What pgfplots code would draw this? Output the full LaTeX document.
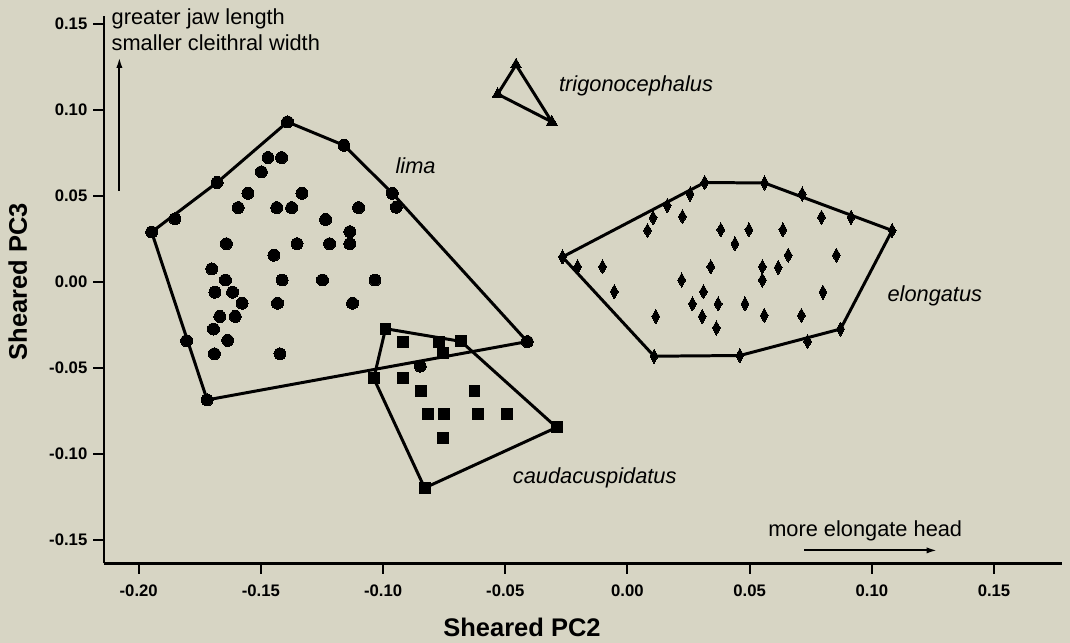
\documentclass[border=0pt]{standalone}
\usepackage{fontspec}
\setmainfont{Liberation Sans}
\usepackage{pgfplots}
\pgfplotsset{compat=1.18}
\usetikzlibrary{backgrounds,calc,arrows.meta}
\definecolor{bg}{RGB}{215,213,196}

% point sets (Sheared PC2, Sheared PC3)
\pgfplotstableread{
x y
-0.1947 0.0288
-0.1852 0.0365
-0.1679 0.0576
-0.1391 0.0928
-0.1160 0.0792
-0.0962 0.0513
-0.0946 0.0432
-0.0410 -0.0349
-0.0848 -0.0492
-0.1720 -0.0688
-0.1804 -0.0344
-0.1471 0.0721
-0.1415 0.0721
-0.1498 0.0638
-0.1553 0.0513
-0.1332 0.0513
-0.1593 0.0430
-0.1435 0.0430
-0.1374 0.0430
-0.1100 0.0430
-0.1235 0.0361
-0.1136 0.0290
-0.1641 0.0220
-0.1352 0.0220
-0.1219 0.0220
-0.1136 0.0220
-0.1447 0.0153
-0.1701 0.0074
-0.1645 0.0009
-0.1413 0.0009
-0.1248 0.0009
-0.1033 0.0009
-0.1688 -0.0062
-0.1616 -0.0062
-0.1577 -0.0126
-0.1432 -0.0126
-0.1125 -0.0126
-0.1668 -0.0203
-0.1605 -0.0203
-0.1694 -0.0276
-0.1636 -0.0342
-0.1690 -0.0420
-0.1422 -0.0420
}\lima

\pgfplotstableread{
x y
-0.0990 -0.0274
-0.0681 -0.0348
-0.0290 -0.0848
-0.0830 -0.1200
-0.1038 -0.0563
-0.0919 -0.0351
-0.0772 -0.0351
-0.0756 -0.0415
-0.0919 -0.0563
-0.0844 -0.0636
-0.0626 -0.0636
-0.0817 -0.0771
-0.0749 -0.0771
-0.0613 -0.0771
-0.0493 -0.0771
-0.0756 -0.0911
}\cauda

\pgfplotstableread{
x y
-0.0266 0.0143
-0.0204 0.0086
0.0163 0.0442
0.0256 0.0509
0.0316 0.0576
0.0561 0.0573
0.0715 0.0509
0.0915 0.0374
0.1083 0.0297
0.0872 -0.0276
0.0737 -0.0348
0.0460 -0.0430
0.0109 -0.0434
0.0105 0.0371
0.0225 0.0378
0.0082 0.0297
0.0382 0.0301
0.0497 0.0301
0.0636 0.0301
0.0794 0.0374
0.0440 0.0220
0.0658 0.0153
0.0855 0.0153
-0.0102 0.0086
0.0341 0.0086
0.0552 0.0086
0.0617 0.0082
0.0552 0.0009
0.0222 0.0009
-0.0054 -0.0059
0.0311 -0.0059
0.0800 -0.0062
0.0266 -0.0130
0.0371 -0.0130
0.0481 -0.0130
0.0116 -0.0203
0.0306 -0.0203
0.0560 -0.0197
0.0712 -0.0197
0.0364 -0.0270
}\elong

\begin{document}
\begin{tikzpicture}
\begin{axis}[
    name=ax,
    scale only axis,
    width=19.154cm, height=10.946cm,
    xmin=-0.2142, xmax=0.1777,
    ymin=-0.1638, ymax=0.1544,
    axis lines=left,
    axis line style={-, line width=1.4pt},
    xtick={-0.2,-0.15,-0.1,-0.05,0,0.05,0.1,0.15},
    ytick={-0.15,-0.1,-0.05,0,0.05,0.1,0.15},
    tick align=outside,
    major tick length=0.21cm,
    tick style={line width=1.1pt, black},
    /pgf/number format/.cd, fixed, fixed zerofill, precision=2, assume math mode=true,
    /pgfplots/.cd,
    ticklabel style={font=\fontsize{9.5}{11}\selectfont\bfseries},
    xticklabel style={yshift=-0.1cm},
    xlabel={Sheared PC2},
    ylabel={Sheared PC3},
    label style={font=\fontsize{14.5}{17}\selectfont\bfseries},
    xlabel style={at={(axis description cs:0.4365,-0.117)}, anchor=center},
    ylabel style={at={(axis description cs:-0.09,0.515)}, anchor=center},
    clip=false,
]
% convex hulls
\addplot[black, line width=1.7pt, line join=round] coordinates {
    (-0.1947,0.0288) (-0.1679,0.0576) (-0.1391,0.0928) (-0.1160,0.0792)
    (-0.0962,0.0513) (-0.0410,-0.0349) (-0.1720,-0.0688) (-0.1947,0.0288)};
\addplot[black, line width=1.7pt, line join=round] coordinates {
    (-0.0990,-0.0274) (-0.0681,-0.0348) (-0.0290,-0.0848) (-0.0830,-0.1200)
    (-0.1038,-0.0563) (-0.0990,-0.0274)};
\addplot[black, line width=1.7pt, line join=round] coordinates {
    (-0.0266,0.0143) (0.0316,0.0576) (0.0561,0.0573) (0.1083,0.0297)
    (0.0872,-0.0276) (0.0460,-0.0430) (0.0109,-0.0434) (-0.0266,0.0143)};
\addplot[black, line width=1.7pt, line join=round, mark=triangle*,
    mark size=3.6pt, mark options={solid, fill=black, line width=0pt}] coordinates {
    (-0.0456,0.1260) (-0.0531,0.1090) (-0.0309,0.0928) (-0.0456,0.1260)};
% points
\addplot[only marks, mark=*, mark size=3.4pt,
    mark options={fill=black, draw=black, line width=0pt}] table {\lima};
\addplot[only marks, mark=square*, mark size=3.1pt,
    mark options={fill=black, draw=black, line width=0pt}] table {\cauda};
\addplot[only marks, mark=diamond*, mark size=4pt,
    mark options={fill=black, draw=black, line width=0pt, xscale=0.75}] table {\elong};

% labels
\node[anchor=west, inner sep=0pt, font=\fontsize{12.4}{14}\selectfont\itshape] at (axis cs:-0.0950,0.0676) {lima};
\node[anchor=west, inner sep=0pt, font=\fontsize{12.4}{14}\selectfont\itshape] at (axis cs:-0.0281,0.1137) {trigonocephalus};
\node[anchor=west, inner sep=0pt, font=\fontsize{12.4}{14}\selectfont\itshape] at (axis cs:0.1063,-0.0084) {elongatus};
\node[anchor=west, inner sep=0pt, font=\fontsize{12.4}{14}\selectfont\itshape] at (axis cs:-0.0470,-0.1141) {caudacuspidatus};
\node[anchor=west, inner sep=0pt, font=\fontsize{12.4}{14}\selectfont] at (axis cs:-0.2112,0.1530) {greater jaw length};
\node[anchor=west, inner sep=0pt, font=\fontsize{12.4}{14}\selectfont] at (axis cs:-0.2112,0.1388) {smaller cleithral width};
\node[anchor=west, inner sep=0pt, font=\fontsize{12.4}{14}\selectfont] at (axis cs:0.0575,-0.1448) {more elongate head};
\draw[line width=1.1pt, -{Latex[length=6pt,width=3.6pt]}] (axis cs:-0.2079,0.0528) -- (axis cs:-0.2079,0.1303);
\draw[line width=1.1pt, -{Latex[length=6pt,width=3.6pt]}] (axis cs:0.0724,-0.1563) -- (axis cs:0.1267,-0.1563);
\end{axis}
\begin{scope}[on background layer]
\fill[bg] ($(ax.south west)+(-2.08cm,-1.594cm)$) rectangle ($(ax.north east)+(0.166cm,0.32cm)$);
\end{scope}
\pgfresetboundingbox
\useasboundingbox ($(ax.south west)+(-2.08cm,-1.594cm)$) rectangle ($(ax.north east)+(0.166cm,0.32cm)$);
\end{tikzpicture}
\end{document}
